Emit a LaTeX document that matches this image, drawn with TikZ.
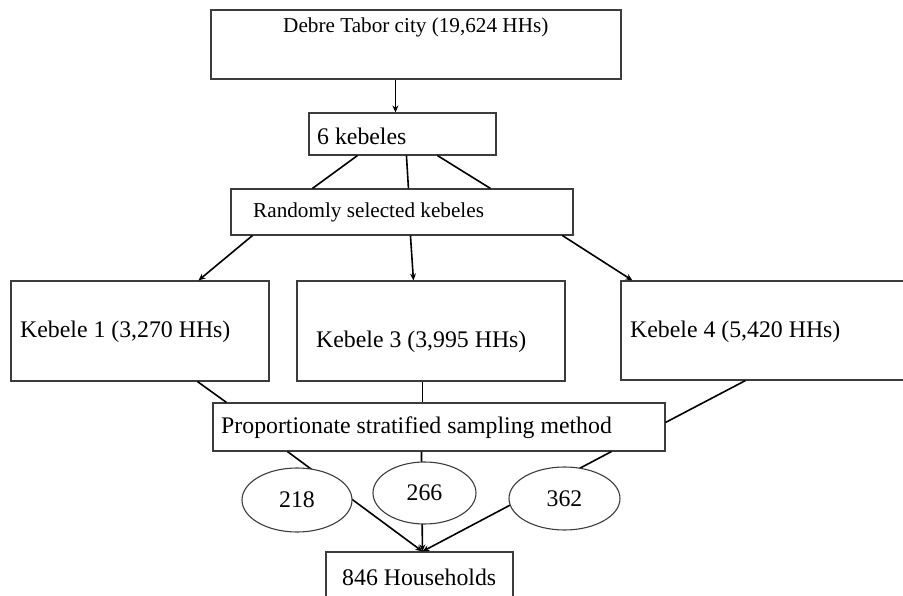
\documentclass[tikz,border=0pt]{standalone}
\usepackage{fontspec}
\setmainfont{Liberation Serif}
\usetikzlibrary{arrows.meta,shapes.geometric}
\definecolor{boxline}{HTML}{3C3C3C}
\tikzset{
  box/.style={draw=boxline, line width=1.1pt, fill=white, inner sep=0pt, rectangle},
  oval/.style={draw=boxline, line width=1.1pt, fill=white, ellipse, inner sep=0pt},
  link/.style={draw=black, line width=1.6pt},
  arr/.style={link, -{Stealth[length=7pt,width=6pt]}},
  bigtxt/.style={font=\fontsize{23.8}{28}\selectfont, inner sep=0pt, anchor=west},
  smalltxt/.style={font=\fontsize{21.2}{25}\selectfont, inner sep=0pt, anchor=west},
  numtxt/.style={font=\fontsize{23.8}{28}\selectfont, inner sep=0pt}
}
\begin{document}
\begin{tikzpicture}[x=1pt,y=-1pt]
\useasboundingbox (0,0) rectangle (903,596);
\fill[white] (0,0) rectangle (903,596);
% boxes
\node[box, minimum width=410pt, minimum height=69pt] (top) at (416,44.5) {};
\node[box, minimum width=187pt, minimum height=42pt] (six) at (402.5,134) {};
\node[box, minimum width=342pt, minimum height=46pt] (rand) at (402,212) {};
\node[box, minimum width=258pt, minimum height=100pt] (k1) at (140,331) {};
\node[box, minimum width=268pt, minimum height=100pt] (k3) at (431,331) {};
\node[box, minimum width=300pt, minimum height=99pt] (k4) at (771,330.5) {};
\node[box, minimum width=452pt, minimum height=48pt] (prop) at (439,427) {};
\node[box, minimum width=187pt, minimum height=50pt] (hh) at (419.5,577) {};
% texts
\node[smalltxt] (ttop) at (283,27) {Debre Tabor city (19,624 HHs)};
\node[bigtxt] (tsix) at (317,136) {6 kebeles};
\node[smalltxt] (trand) at (253,212) {Randomly selected kebeles};
\node[bigtxt] (tk1) at (20,332) {Kebele 1 (3,270 HHs)};
\node[bigtxt] (tk3) at (316,342) {Kebele 3 (3,995 HHs)};
\node[bigtxt] (tk4) at (630,332) {Kebele 4 (5,420 HHs)};
\node[bigtxt] (tprop) at (221,428) {Proportionate stratified sampling method};
\node[bigtxt] (thh) at (342,577) {846 Households};
% connectors
\draw[arr] ([xshift=185pt]top.south west) -- ([xshift=87pt]six.north west);
\draw[link] ([xshift=49pt]six.south west) -- ([xshift=82pt]rand.north west);
\draw[link] ([xshift=98pt]six.south west) -- ([xshift=178pt]rand.north west);
\draw[link] ([xshift=129pt]six.south west) -- ([xshift=260pt]rand.north west);
\draw[arr] ([xshift=22pt]rand.south west) -- ([xshift=188pt]k1.north west);
\draw[arr] ([xshift=180pt]rand.south west) -- ([xshift=117pt]k3.north west);
\draw[arr] ([xshift=332pt]rand.south west) -- ([xshift=12pt]k4.north west);
\draw[link] ([xshift=187pt]k1.south west) -- ([xshift=14pt]prop.north west);
\draw[link] ([xshift=126pt]k3.south west) -- ([xshift=210pt]prop.north west);
\draw[link] ([xshift=125pt]k4.south west) -- ([yshift=-20pt]prop.north east);
\draw[arr] ([xshift=75pt]prop.south west) -- ([xshift=97pt]hh.north west);
\draw[arr] ([xshift=209pt]prop.south west) -- ([xshift=97pt]hh.north west);
\draw[arr] ([xshift=399pt]prop.south west) -- ([xshift=97pt]hh.north west);
% ellipses
\node[oval, minimum width=110pt, minimum height=64pt] (e1) at (297,500) {};
\node[oval, minimum width=103pt, minimum height=62pt] (e2) at (424.5,493) {};
\node[oval, minimum width=111pt, minimum height=63pt] (e3) at (564.5,498.5) {};
\node[numtxt] (n1) at (e1) {218};
\node[numtxt] (n2) at (e2) {266};
\node[numtxt] (n3) at (e3) {362};
\end{tikzpicture}
\end{document}
